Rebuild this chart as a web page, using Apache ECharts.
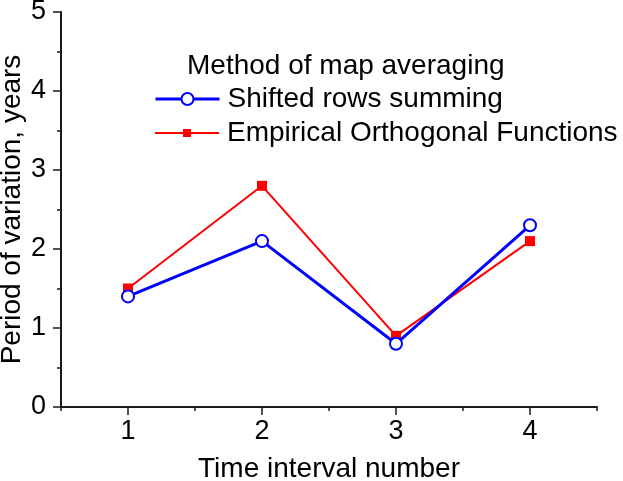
<!DOCTYPE html>
<html><head><meta charset="utf-8">
<script src="https://cdn.jsdelivr.net/npm/echarts@6/dist/echarts.min.js"></script>
<style>html,body{margin:0;padding:0;background:#fff}#c{width:623px;height:481px}</style>
</head><body><div id="c"></div>
<script>
const intervals = [1, 2, 3, 4];
const shiftedRows = [1.4, 2.1, 0.8, 2.3];
const eof = [1.5, 2.8, 0.9, 2.1];
const yTicks = [0, 1, 2, 3, 4, 5];
const legendTitle = 'Method of map averaging';
const seriesNames = ['Shifted rows summing', 'Empirical Orthogonal Functions'];
const xName = 'Time interval number';
const yName = 'Period of variation, years';

const FONT = 'Liberation Sans, Arial, Helvetica, sans-serif';
const AX = '#1a1a1a';
const legendText = {fontFamily: FONT, fontSize: 28, color: '#000', padding: [0, 0, 0, 3], lineHeight: 30};
const chart = echarts.init(document.getElementById('c'), null, {renderer: 'canvas'});
chart.setOption({
  animation: false,
  backgroundColor: '#fff',
  textStyle: {fontFamily: FONT},
  grid: {left: 61, right: 26, top: 12, bottom: 74, containLabel: false, outerBoundsMode: 'none'},
  title: {
    text: legendTitle, left: 182, top: 47,
    textStyle: {fontFamily: FONT, fontSize: 28, fontWeight: 'normal', color: '#000'}
  },
  legend: [{
    orient: 'vertical', left: 149, top: 79,
    itemWidth: 64, itemHeight: 15,
    lineStyle: {width: 3},
    textStyle: legendText,
    data: [seriesNames[0]]
  }, {
    orient: 'vertical', left: 149, top: 113,
    itemWidth: 64, itemHeight: 10,
    lineStyle: {width: 2},
    textStyle: legendText,
    data: [seriesNames[1]]
  }],
  xAxis: [{
    type: 'value', min: 0.5, max: 4.5, interval: 0.5,
    name: xName, nameLocation: 'middle', nameGap: 48, nameMoveOverlap: false,
    nameTextStyle: {fontFamily: FONT, fontSize: 28, color: '#000'},
    axisLine: {show: true, lineStyle: {color: AX, width: 2}},
    axisTick: {show: true, length: 8, lineStyle: {color: AX, width: 1.5}, customValues: intervals},
    axisLabel: {fontFamily: FONT, fontSize: 27, color: '#000', margin: 11, customValues: intervals},
    splitLine: {show: false}
  }, {
    type: 'value', min: 0.5, max: 4.5, interval: 0.5, position: 'bottom',
    axisLine: {show: false},
    axisTick: {show: true, length: 4, lineStyle: {color: AX, width: 1.5}, customValues: [0.5, 1.5, 2.5, 3.5, 4.5]},
    axisLabel: {show: false},
    splitLine: {show: false}
  }],
  yAxis: {
    type: 'value', min: yTicks[0], max: yTicks[yTicks.length - 1], interval: 1,
    name: yName, nameLocation: 'middle', nameGap: 35, nameRotate: 90, nameMoveOverlap: false,
    nameTextStyle: {fontFamily: FONT, fontSize: 28, color: '#000'},
    axisLine: {show: true, lineStyle: {color: AX, width: 2}},
    axisTick: {show: true, length: 8, lineStyle: {color: AX, width: 1.5}},
    minorTick: {show: true, splitNumber: 2, length: 4, lineStyle: {color: AX, width: 1.5}},
    axisLabel: {fontFamily: FONT, fontSize: 27, color: '#000', margin: 15},
    splitLine: {show: false}
  },
  series: [{
    name: seriesNames[0], type: 'line', xAxisIndex: 0,
    data: intervals.map((x, i) => [x, shiftedRows[i]]),
    symbol: 'emptyCircle', symbolSize: 12,
    lineStyle: {color: '#0000ff', width: 3},
    itemStyle: {color: '#0000ff', borderColor: '#0000ff', borderWidth: 2.5},
    z: 3
  }, {
    name: seriesNames[1], type: 'line', xAxisIndex: 0,
    data: intervals.map((x, i) => [x, eof[i]]),
    symbol: 'rect', symbolSize: 10,
    lineStyle: {color: '#ff0000', width: 2},
    itemStyle: {color: '#ff0000'},
    z: 2
  }]
});
</script></body></html>
